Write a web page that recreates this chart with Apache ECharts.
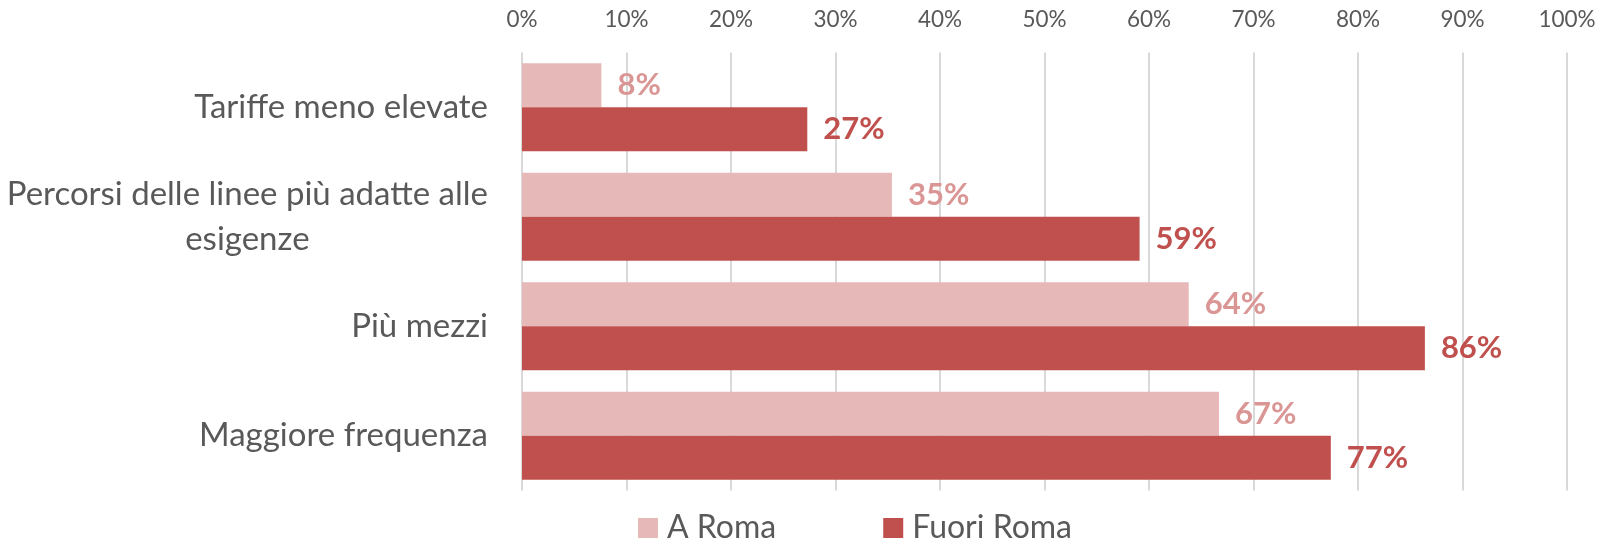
<!DOCTYPE html>
<html>
<head>
<meta charset="utf-8">
<script src="https://cdn.jsdelivr.net/npm/echarts@6/dist/echarts.min.js"></script>
<style>
html,body{margin:0;padding:0;background:#fff;}
#chart{width:1613px;height:541px;}
</style>
</head>
<body>
<div id="chart"></div>
<script>
const categories = [
  'Tariffe meno elevate',
  'Percorsi delle linee più adatte alle\nesigenze',
  'Più mezzi',
  'Maggiore frequenza'
];
const seriesNames = ['A Roma', 'Fuori Roma'];
const aRoma = [7.6, 35.4, 63.8, 66.7];
const fuoriRoma = [27.3, 59.1, 86.4, 77.4];
const tickValues = [0, 10, 20, 30, 40, 50, 60, 70, 80, 90, 100];

const FONT = 'Lato';
const catFontSize = 33;

const chart = echarts.init(document.getElementById('chart'), null, {renderer: 'canvas'});
chart.setOption({
  animation: false,
  textStyle: {fontFamily: FONT},
  grid: {left: 522, right: 46, top: 52.5, bottom: 50.5, containLabel: false},
  legend: {
    data: seriesNames,
    left: 633,
    top: 507,
    itemWidth: 20,
    itemHeight: 20,
    itemGap: 107,
    icon: 'rect',
    textStyle: {color: '#595959', fontSize: 32, fontFamily: FONT, padding: [0, 0, 0, 4]}
  },
  xAxis: {
    type: 'value',
    position: 'top',
    min: 0,
    max: 100,
    interval: 10,
    axisLine: {show: false},
    axisTick: {show: false},
    axisLabel: {
      formatter: v => tickValues.includes(v) ? v + '%' : '',
      color: '#595959',
      fontSize: 22.5,
      margin: 21
    },
    splitLine: {show: true, lineStyle: {color: '#D9D9D9', width: 2}}
  },
  yAxis: {
    type: 'category',
    data: categories,
    inverse: true,
    axisLine: {show: false},
    axisTick: {show: false},
    axisLabel: {
      color: '#595959',
      fontSize: catFontSize,
      margin: 34,
      lineHeight: 45,
      formatter: v => v.indexOf('\n') >= 0 ? v.split('\n').map(l => '{c|' + l + '}').join('\n') : v,
      rich: {c: {align: 'center', fontSize: catFontSize, lineHeight: 45, color: '#595959', fontFamily: FONT}}
    }
  },
  series: [
    {
      name: seriesNames[0],
      type: 'bar',
      data: aRoma,
      barWidth: 44,
      barGap: '0%',
      itemStyle: {color: '#E6B9B8'},
      label: {show: true, position: 'right', distance: 16, formatter: p => Math.round(p.value) + '%',
        color: '#DA9694', fontWeight: 'bold', fontSize: 31}
    },
    {
      name: seriesNames[1],
      type: 'bar',
      data: fuoriRoma,
      barWidth: 44,
      barGap: '0%',
      itemStyle: {color: '#C0504D'},
      label: {show: true, position: 'right', distance: 16, formatter: p => Math.round(p.value) + '%',
        color: '#C0504D', fontWeight: 'bold', fontSize: 31}
    }
  ]
});
</script>
</body>
</html>
